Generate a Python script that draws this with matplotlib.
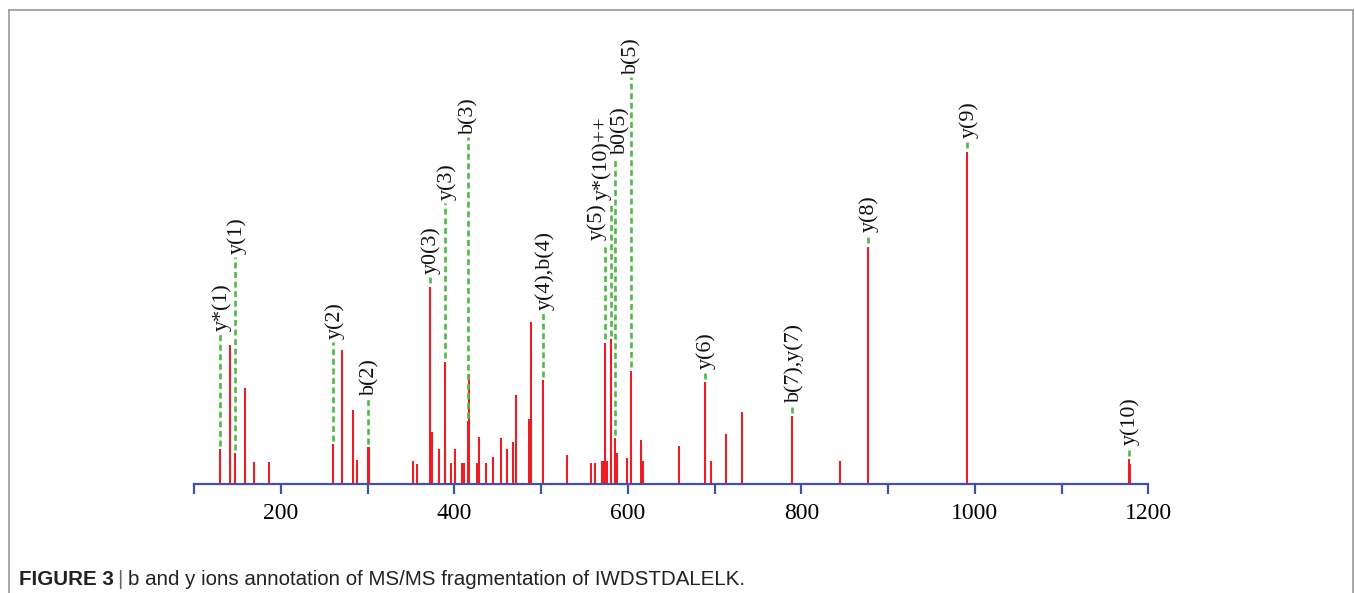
import matplotlib
matplotlib.use("Agg")
import matplotlib.pyplot as plt
from matplotlib.lines import Line2D
import numpy as np

# peak list: m/z and relative intensity (% of the y(9) peak)
mz = [130.09, 141.2, 147.11, 158.5, 169.2, 186.5, 260.2, 270.6, 283.3, 287.9,
      300.17, 301.2, 352.5, 357.1, 371.23, 372.6, 374.4, 382.5, 389.24, 395.6,
      400.2, 408.7, 411.0, 415.2, 417.1, 425.6, 427.9, 436.3, 444.7, 454.0,
      460.2, 467.8, 470.9, 485.6, 488.2, 502.3, 529.4, 557.1, 561.7, 570.1,
      571.3, 573.36, 575.5, 580.78, 585.27, 587.7, 598.6, 603.28, 615.4, 617.7,
      659.2, 688.39, 695.4, 713.1, 731.8, 789.34, 844.5, 876.47, 991.49,
      1177.57, 1178.6]
intensity = [10.5, 41.9, 9.3, 29.0, 6.6, 6.6, 12.0, 40.3, 22.3, 7.2,
             11.1, 11.1, 7.0, 5.9, 59.4, 8.2, 15.6, 10.4, 36.8, 6.4,
             10.4, 6.4, 6.4, 19.0, 33.0, 6.4, 14.2, 6.4, 8.0, 13.8,
             10.4, 12.7, 26.8, 19.5, 48.8, 31.3, 8.7, 6.4, 6.4, 6.9,
             6.9, 42.5, 6.9, 43.5, 13.8, 9.2, 7.7, 34.1, 13.2, 6.9,
             11.4, 30.6, 6.9, 15.0, 21.6, 20.5, 6.9, 71.4, 100.0,
             7.5, 6.0]

# annotated ions
ion_mz = [130.09, 147.11, 260.2, 300.17, 371.23, 389.24, 415.2, 502.3,
          573.36, 580.78, 585.27, 603.28, 688.39, 789.34, 876.47, 991.49, 1177.57]
ion_names = ["y*(1)", "y(1)", "y(2)", "b(2)", "y0(3)", "y(3)", "b(3)", "y(4),b(4)",
             "y(5)", "y*(10)++", "b0(5)", "b(5)", "y(6)", "b(7),y(7)", "y(8)", "y(9)", "y(10)"]
ion_level = [45.1, 68.3, 42.8, 25.9, 62.3, 84.6, 104.5, 51.5,
             72.5, 84.6, 98.5, 122.6, 33.7, 23.8, 74.9, 103.3, 10.8]

xticks = list(range(100, 1201, 100))

# labels in the crowded 570-590 region are nudged sideways (pixels)
label_shift = {"y(5)": -8, "y*(10)++": -9, "b0(5)": 6}

plt.rcParams["lines.scale_dashes"] = False
W, H = 1355, 593
fig = plt.figure(figsize=(W / 100, H / 100), dpi=100)

x0, x1 = 194.3, 1148.3      # pixel positions of m/z 100 and 1200
base, top = 484, 40         # baseline pixel and axes top pixel
px_per_pct = 332.3 / 100
ax = fig.add_axes([x0 / W, 1 - base / H, (x1 - x0) / W, (base - top) / H])
ax.set_xlim(100, 1200)
ax.set_ylim(0, (base - top) / px_per_pct)

red = "#ee1c25"
green = "#52b848"
blue = "#3d52a8"

ax.vlines(mz, 0, intensity, color=red, linewidth=1.5)

lookup = dict(zip(mz, intensity))
for m, name, lev in zip(ion_mz, ion_names, ion_level):
    start = lookup.get(m, 0) + 1.0
    ax.plot([m, m], [start, lev], color=green, linewidth=1.9,
            linestyle=(0, (4.3, 2.6)), clip_on=False)
    ax.annotate(name, xy=(m, lev), xytext=(label_shift.get(name, 1.5), 3),
                textcoords="offset pixels", rotation=90, ha="center", va="bottom",
                fontsize=15.8, family="Liberation Serif", color="#111111",
                annotation_clip=False)

for s in ["left", "right", "top"]:
    ax.spines[s].set_visible(False)
ax.spines["bottom"].set_color(blue)
ax.spines["bottom"].set_linewidth(1.6)
ax.set_yticks([])
ax.set_xticks(xticks)
ax.set_xticklabels([str(t) if t % 200 == 0 else "" for t in xticks],
                   family="Liberation Serif", fontsize=17)
ax.tick_params(axis="x", direction="out", length=7.5, width=1.6, color=blue, pad=6)

# frame around the figure panel
frame = dict(color="#9a9a9a", linewidth=1.2, transform=fig.transFigure)
fig.add_artist(Line2D([9 / W, 9 / W], [0, 1 - 10 / H], **frame))
fig.add_artist(Line2D([9 / W, 1353 / W], [1 - 10 / H, 1 - 10 / H], **frame))
fig.add_artist(Line2D([1353 / W, 1353 / W], [0, 1 - 10 / H], **frame))

# caption
cap_y = 1 - 585 / H
fig.text(19 / W, cap_y, "FIGURE 3", fontsize=14.8, fontweight="bold",
         family="Liberation Sans", color="#222222", va="baseline")
fig.text(117 / W, cap_y, "|", fontsize=14.8, family="Liberation Sans",
         color="#666666", va="baseline")
fig.text(128 / W, cap_y, "b and y ions annotation of MS/MS fragmentation of IWDSTDALELK.",
         fontsize=14.8, family="Liberation Sans", color="#222222", va="baseline")

fig.savefig("out.png", dpi=100)
